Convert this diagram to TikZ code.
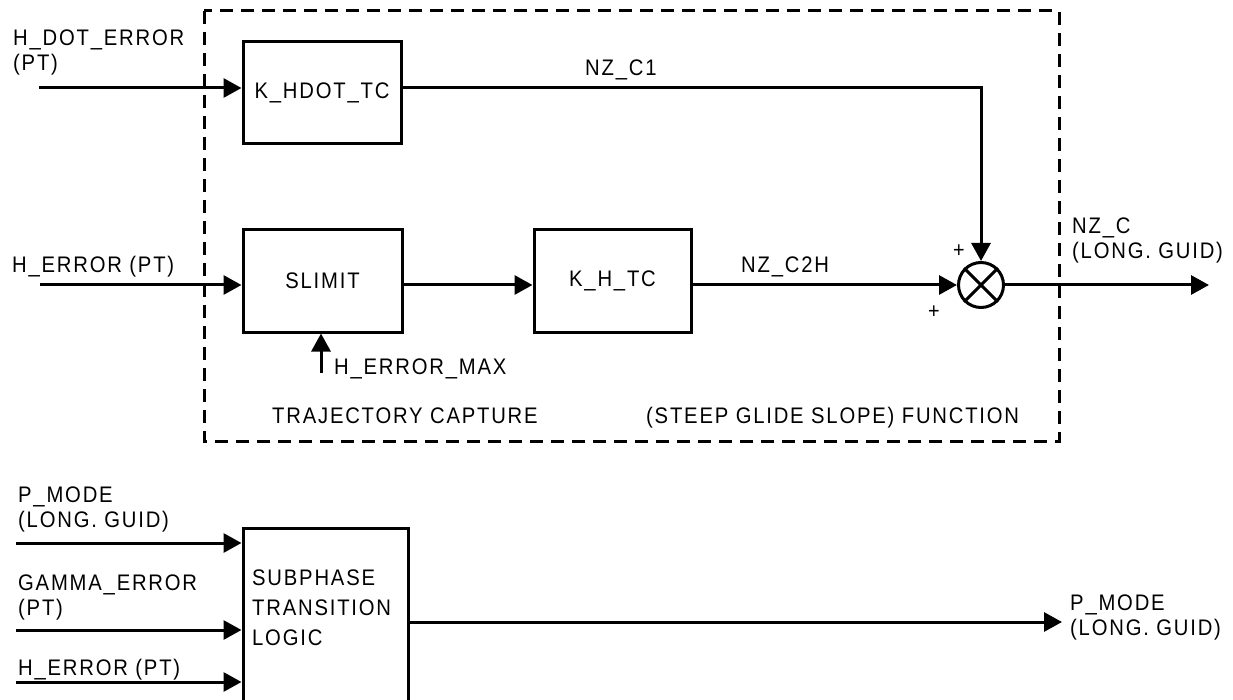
\documentclass[tikz,border=0pt]{standalone}
\usepackage{fontspec}
\setmainfont{Liberation Sans}[LetterSpace=8, FakeStretch=0.9]
\usetikzlibrary{positioning,arrows.meta}

\begin{document}
\begin{tikzpicture}[
			x=1pt, y=-1pt,
			font=\fontsize{22.5}{25}\selectfont,
			block/.style={draw, rectangle, line width=3pt, inner sep=0pt, minimum width=158pt, minimum height=102pt, align=center},
			sum/.style={draw, circle, line width=3pt, inner sep=0pt, minimum size=45pt},
			sig/.style={line width=3pt, -{Triangle[length=18pt,width=19pt]}},
			wire/.style={line width=3pt},
			frame/.style={line width=3pt, dash pattern=on 13pt off 8pt},
			lbl/.style={inner sep=0pt, align=left, anchor=north west},
			txt/.style={inner sep=0pt, anchor=base west},
			sign/.style={inner sep=0pt, font=\fontsize{22}{22}\selectfont}
			]
			\useasboundingbox (0,0) rectangle (1233,700);
			
			% Trajectory capture frame
			\draw[frame] (204,11) rectangle (1059,441);
			\node[txt] (cap_l) at (272,423) {TRAJECTORY CAPTURE};
			\node[txt] (cap_r) at (646,423) {(STEEP GLIDE SLOPE) FUNCTION};
			
			% Blocks inside the frame
			\node[block] (khdot) at (322,93) {K\_HDOT\_TC};
			\node[block, minimum width=159pt] (slimit) at (322.5,281) {SLIMIT};
			\node[block, minimum width=157pt] (khtc) at (612.5,281) {K\_H\_TC};
			\node[sum] (sum) at (981,285) {};
			\draw[wire] (sum.north west) -- (sum.south east);
			\draw[wire] (sum.north east) -- (sum.south west);
			
			% Free ends of the signals
			\coordinate (hdot_in) at (39,88);
			\coordinate (h_in) at (40,285);
			\coordinate (hmax_in) at (321,373);
			\coordinate (nz_out) at (1209,285);
			
			% Input labels
			\node[lbl] (hdot_lbl) at (13,30) {H\_DOT\_ERROR\\(PT)};
			\node[txt] (h_lbl) at (12,273) {H\_ERROR (PT)};
			\node[txt] (hmax_lbl) at (334,374) {H\_ERROR\_MAX};
			
			% Signal connections
			\draw[sig] (hdot_in) -- (hdot_in -| khdot.west);
			\draw[sig] (hdot_in -| khdot.east) -- (hdot_in -| sum) -- (sum.north);
			\draw[sig] (h_in) -- (h_in -| slimit.west);
			\draw[sig] (h_in -| slimit.east) -- (h_in -| khtc.west);
			\draw[sig] (h_in -| khtc.east) -- (sum.west);
			\draw[sig] (hmax_in) -- (hmax_in |- slimit.south);
			\draw[sig] (sum.east) -- (nz_out);
			
			% Signal names and signs
			\node[txt] (nzc1_lbl) at (585,76) {NZ\_C1};
			\node[txt] (nzc2h_lbl) at (741,273) {NZ\_C2H};
			\node[sign] (plus_a) at (959,251) {+};
			\node[sign] (plus_b) at (934,312) {+};
			\node[lbl] (nzc_lbl) at (1072,218) {NZ\_C\\(LONG. GUID)};
			
			% Subphase transition logic
			\node[block, minimum width=165pt, minimum height=177pt] (logic) at (325.5,616.5) {};
			\node[lbl, font=\fontsize{22.5}{30}\selectfont] (logic_txt) at (252,570) {SUBPHASE\\TRANSITION\\LOGIC};
			
			\coordinate (pm_in) at (16,543);
			\coordinate (gam_in) at (16,630);
			\coordinate (h2_in) at (16,682);
			\coordinate (pm_out) at (1062,622);
			
			\node[lbl] (pm_lbl) at (18,487) {P\_MODE\\(LONG. GUID)};
			\node[lbl] (gam_lbl) at (18,575) {GAMMA\_ERROR\\(PT)};
			\node[txt] (h2_lbl) at (18,675) {H\_ERROR (PT)};
			
			\draw[sig] (pm_in) -- (pm_in -| logic.west);
			\draw[sig] (gam_in) -- (gam_in -| logic.west);
			\draw[sig] (h2_in) -- (h2_in -| logic.west);
			\draw[sig] (pm_out -| logic.east) -- (pm_out);
			\node[lbl] (pmo_lbl) at (1070,595) {P\_MODE\\(LONG. GUID)};
			
		\end{tikzpicture}
\end{document}
